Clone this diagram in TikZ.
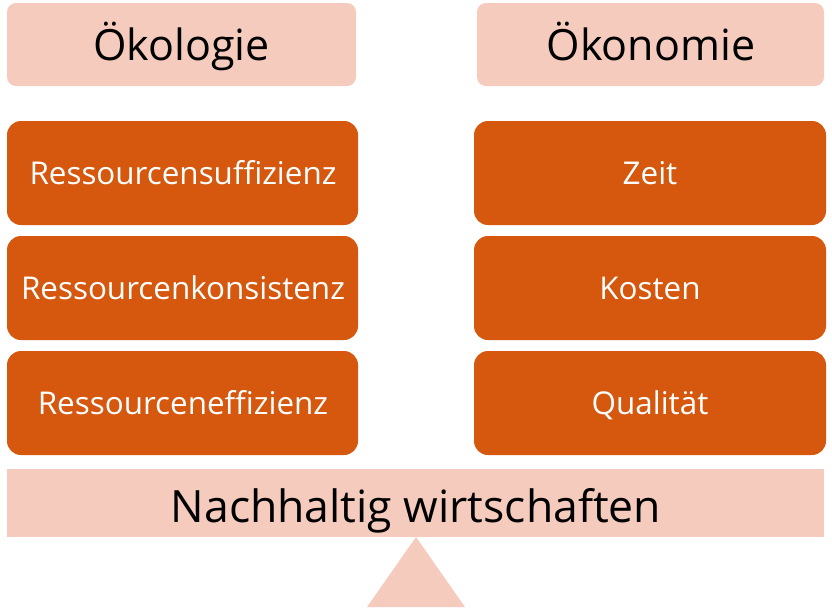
\documentclass[tikz,border=0pt]{standalone}
\usepackage{fontspec}
\setmainfont{Open Sans}
\definecolor{pinkbox}{RGB}{245,203,190}
\definecolor{orangebox}{RGB}{213,88,14}
\begin{document}
\begin{tikzpicture}[x=1pt,y=-1pt,
  headbox/.style={fill=pinkbox,draw=none,rounded corners=9pt},
  itembox/.style={fill=orangebox,draw=none,rounded corners=14pt},
  headtext/.style={font=\fontsize{43}{50}\selectfont,text=black,anchor=base,inner sep=0pt},
  itemtext/.style={font=\fontsize{31.4}{36}\selectfont,text=white,anchor=base,inner sep=0pt},
  bartext/.style={font=\fontsize{44.5}{52}\selectfont,text=black,anchor=base,inner sep=0pt}]
\useasboundingbox (0,0) rectangle (832,611);
% headers
\path[headbox] (7,3) rectangle (356,86);
\node[headtext] (oek) at (181.5,60) {Ökologie};
\path[headbox] (477,3) rectangle (824,86);
\node[headtext] (oekon) at (651,60) {Ökonomie};
% left column
\path[itembox] (7,121) rectangle (358,225);
\node[itemtext] (l1) at (183,184) {Ressourcensuffizienz};
\path[itembox] (7,236) rectangle (358,340);
\node[itemtext] (l2) at (183,299) {Ressourcenkonsistenz};
\path[itembox] (7,351) rectangle (358,455);
\node[itemtext] (l3) at (183,414) {Ressourceneffizienz};
% right column
\path[itembox] (474,121) rectangle (826,225);
\node[itemtext] (r1) at (650,184) {Zeit};
\path[itembox] (474,236) rectangle (826,340);
\node[itemtext] (r2) at (650,299) {Kosten};
\path[itembox] (474,351) rectangle (826,455);
\node[itemtext] (r3) at (650,414) {Qualität};
% bar and fulcrum
\path[fill=pinkbox] (7,469) rectangle (824,537);
\node[bartext] (bar) at (416,522) {Nachhaltig wirtschaften};
\path[fill=pinkbox] (416,537) -- (465,607) -- (367,607) -- cycle;
\end{tikzpicture}
\end{document}
